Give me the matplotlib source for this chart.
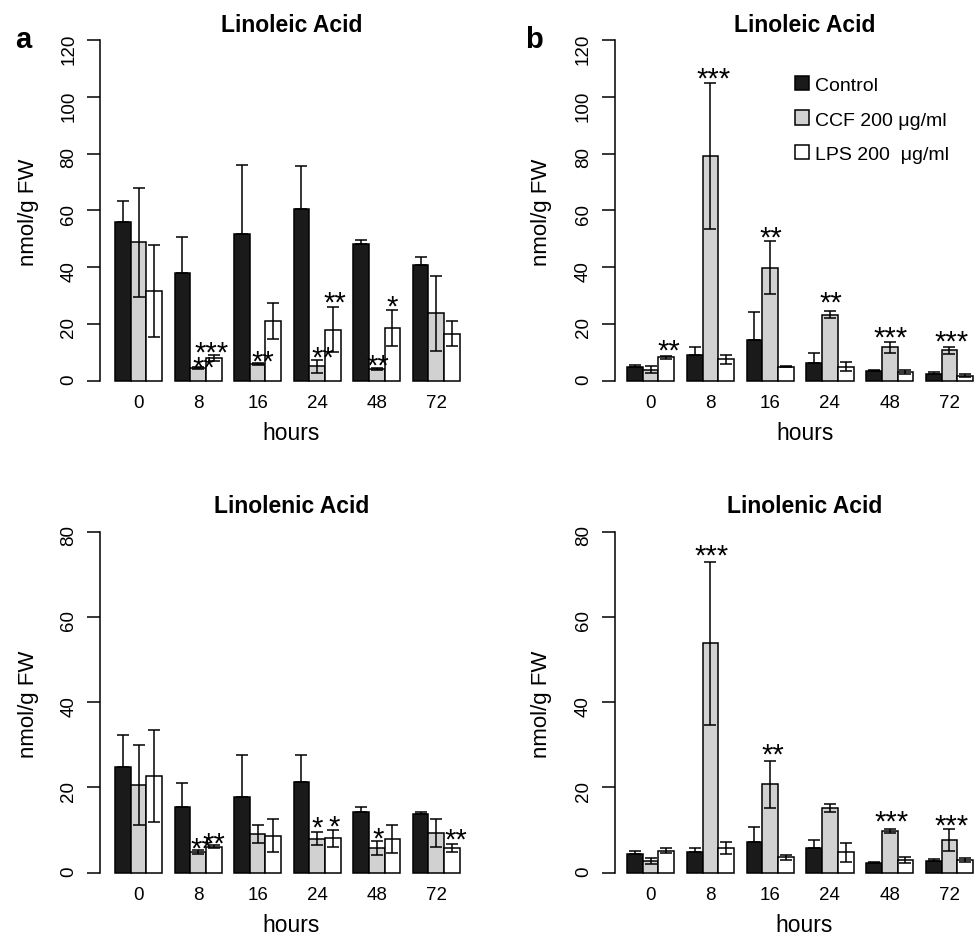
import matplotlib
matplotlib.use('Agg')
import matplotlib.pyplot as plt
from matplotlib.patches import Rectangle
import numpy as np

plt.rcParams['font.family'] = ['Liberation Sans', 'DejaVu Sans']

# ---------------- data ----------------
hours = ['0', '8', '16', '24', '48', '72']
series_names = ['Control', 'CCF 200 \u03bcg/ml', 'LPS 200  \u03bcg/ml']
series_colors = ['#1a1a1a', '#d0d1d0', '#ffffff']

# (a) Linoleic acid
a_lin_control = [55.9, 37.8, 51.5, 60.3, 48.3, 40.7]
a_lin_control_sd = [7.3, 12.7, 24.6, 15.2, 1.4, 2.9]
a_lin_ccf = [48.7, 4.4, 5.8, 5.1, 4.0, 23.7]
a_lin_ccf_sd = [19.2, 0.4, 0.4, 2.3, 0.4, 13.2]
a_lin_lps = [31.5, 8.1, 21.0, 18.0, 18.6, 16.6]
a_lin_lps_sd = [16.2, 1.1, 6.4, 7.9, 6.4, 4.5]

# (b) Linoleic acid
b_lin_control = [4.9, 9.0, 14.3, 6.3, 3.5, 2.4]
b_lin_control_sd = [0.5, 3.0, 9.8, 3.6, 0.3, 0.8]
b_lin_ccf = [3.9, 79.2, 39.8, 23.3, 11.8, 10.7]
b_lin_ccf_sd = [1.3, 25.7, 9.4, 1.2, 1.9, 1.2]
b_lin_lps = [8.2, 7.5, 5.0, 5.0, 3.0, 1.7]
b_lin_lps_sd = [0.6, 1.5, 0.3, 1.7, 0.6, 0.5]

# (a) Linolenic acid
a_len_control = [24.7, 15.3, 17.7, 21.2, 14.3, 13.8]
a_len_control_sd = [7.6, 5.8, 9.9, 6.4, 1.0, 0.4]
a_len_ccf = [20.6, 4.9, 9.1, 8.0, 5.8, 9.3]
a_len_ccf_sd = [9.3, 0.4, 2.2, 1.5, 1.7, 3.3]
a_len_lps = [22.6, 6.1, 8.7, 8.1, 7.9, 5.8]
a_len_lps_sd = [10.8, 0.3, 3.9, 2.0, 3.3, 0.9]

# (b) Linolenic acid
b_len_control = [4.3, 4.8, 7.3, 5.7, 2.2, 2.75]
b_len_control_sd = [0.9, 0.9, 3.5, 2.0, 0.3, 0.4]
b_len_ccf = [2.8, 53.8, 20.7, 15.2, 9.7, 7.7]
b_len_ccf_sd = [0.7, 19.2, 5.5, 0.9, 0.5, 2.5]
b_len_lps = [5.2, 5.9, 3.6, 4.8, 3.0, 3.05]
b_len_lps_sd = [0.5, 1.4, 0.6, 2.2, 0.65, 0.45]

# significance marks: group index, offset within group (bar units), y value, label
a_lin_stars_group = [1, 1, 2, 3, 3, 4, 4]
a_lin_stars_off = [1.89, 2.37, 1.84, 1.84, 2.6, 1.6, 2.5]
a_lin_stars_y = [6.3, 11.5, 8.4, 9.6, 29.0, 6.9, 27.8]
a_lin_stars_txt = ['**', '***', '**', '**', '**', '**', '*']

b_lin_stars_group = [0, 1, 2, 3, 4, 5]
b_lin_stars_off = [2.66, 1.67, 1.54, 1.56, 1.57, 1.6]
b_lin_stars_y = [12.2, 107.9, 51.9, 29.0, 16.7, 15.3]
b_lin_stars_txt = ['**', '***', '**', '**', '***', '***']

a_len_stars_group = [1, 1, 3, 3, 4, 5]
a_len_stars_off = [1.72, 2.48, 1.47, 2.58, 1.58, 2.73]
a_len_stars_y = [6.7, 7.9, 11.6, 12.0, 9.2, 8.8]
a_len_stars_txt = ['**', '**', '*', '*', '*', '**']

b_len_stars_group = [1, 2, 4, 5]
b_len_stars_off = [1.59, 1.68, 1.6, 1.65]
b_len_stars_y = [75.5, 28.9, 13.0, 12.1]
b_len_stars_txt = ['***', '**', '***', '***']

# ---------------- layout ----------------
W, H = 976, 935
fig = plt.figure(figsize=(W / 100, H / 100), dpi=100)

def fx(px):
    return px / W

def fy(py):
    return 1 - py / H

GROUP_PERIOD = 3.8   # 3 bars + gap
LW = 1.1

panels = [
    dict(title='Linoleic Acid', ymax=120,
         spine=100.0, first=115.0, unit=15.67, xmax=23.0, y0=380.7, ytop=40.0,
         means=[a_lin_control, a_lin_ccf, a_lin_lps],
         sds=[a_lin_control_sd, a_lin_ccf_sd, a_lin_lps_sd],
         stars=(a_lin_stars_group, a_lin_stars_off, a_lin_stars_y, a_lin_stars_txt),
         title_x=291.5, title_y=31.7, ylab_x=28.5, ylab_y=212.5, hours_y=439.6),
    dict(title='Linoleic Acid', ymax=120,
         spine=614.7, first=627.0, unit=15.73, xmax=22.1, y0=380.7, ytop=40.0,
         means=[b_lin_control, b_lin_ccf, b_lin_lps],
         sds=[b_lin_control_sd, b_lin_ccf_sd, b_lin_lps_sd],
         stars=(b_lin_stars_group, b_lin_stars_off, b_lin_stars_y, b_lin_stars_txt),
         title_x=804.7, title_y=31.7, ylab_x=542.0, ylab_y=212.5, hours_y=439.6),
    dict(title='Linolenic Acid', ymax=80,
         spine=100.0, first=115.0, unit=15.67, xmax=23.0, y0=872.7, ytop=531.7,
         means=[a_len_control, a_len_ccf, a_len_lps],
         sds=[a_len_control_sd, a_len_ccf_sd, a_len_lps_sd],
         stars=(a_len_stars_group, a_len_stars_off, a_len_stars_y, a_len_stars_txt),
         title_x=291.3, title_y=513.3, ylab_x=28.5, ylab_y=704.2, hours_y=931.5),
    dict(title='Linolenic Acid', ymax=80,
         spine=614.7, first=627.0, unit=15.73, xmax=22.1, y0=872.7, ytop=531.7,
         means=[b_len_control, b_len_ccf, b_len_lps],
         sds=[b_len_control_sd, b_len_ccf_sd, b_len_lps_sd],
         stars=(b_len_stars_group, b_len_stars_off, b_len_stars_y, b_len_stars_txt),
         title_x=804.4, title_y=513.3, ylab_x=542.0, ylab_y=704.2, hours_y=931.5),
]

group_idx = np.arange(len(hours))

for p in panels:
    xmin = -(p['first'] - p['spine']) / p['unit']
    width_px = (p['xmax'] - xmin) * p['unit']
    height_px = p['y0'] - p['ytop']
    ax = fig.add_axes([fx(p['spine']), fy(p['y0']), width_px / W, height_px / H])
    ax.set_facecolor('none')
    ax.set_xlim(xmin, p['xmax'])
    ax.set_ylim(0, p['ymax'])

    for j in range(3):
        xs = group_idx * GROUP_PERIOD + j + 0.5
        means = np.asarray(p['means'][j], dtype=float)
        sds = np.asarray(p['sds'][j], dtype=float)
        ax.bar(xs, means, width=1.0, color=series_colors[j],
               edgecolor='black', linewidth=LW, clip_on=False, zorder=2)
        if j == 0:
            # lower half of the whisker is hidden inside the dark bar
            yerr = [np.zeros_like(sds), sds]
        else:
            yerr = sds
        ax.errorbar(xs, means, yerr=yerr, fmt='none',
                    ecolor='black', elinewidth=LW, capsize=4.2, capthick=LW,
                    clip_on=False, zorder=3)

    g, off, yv, txt = p['stars']
    for gi, o, y, t in zip(g, off, yv, txt):
        ax.annotate(t, (gi * GROUP_PERIOD + o, y), xytext=(0, -9.8),
                    textcoords='offset points', ha='center', va='baseline',
                    fontsize=21, annotation_clip=False, zorder=4)

    for s in ['top', 'right', 'bottom']:
        ax.spines[s].set_visible(False)
    ax.spines['left'].set_linewidth(LW)
    ax.spines['left'].set_bounds(0, p['ymax'])
    ax.set_yticks(np.arange(0, p['ymax'] + 1, 20))
    ax.tick_params(axis='y', length=9.4, width=LW, pad=7, labelsize=13.5,
                   labelrotation=90)
    ax.set_xticks(group_idx * GROUP_PERIOD + 1.5)
    ax.set_xticklabels(hours)
    ax.tick_params(axis='x', length=0, pad=10.5, labelsize=13.5)

    fig.text(fx(p['title_x']), fy(p['title_y']), p['title'], ha='center',
             va='baseline', fontsize=16.5, fontweight='bold')
    fig.text(fx(p['ylab_x']), fy(p['ylab_y']), 'nmol/g FW', rotation=90,
             ha='center', va='center', fontsize=16)
    fig.text(fx(p['title_x']), fy(p['hours_y']), 'hours', ha='center',
             va='baseline', fontsize=16.5)

# panel letters
fig.text(fx(23.5), fy(48.0), 'a', ha='center', va='baseline', fontsize=21,
         fontweight='bold')
fig.text(fx(534.3), fy(48.0), 'b', ha='center', va='baseline', fontsize=21,
         fontweight='bold')

# legend (panel b, top)
leg_x = 794.7
leg_size = 14.0
leg_centers = [82.7, 117.5, 151.9]
for name, col, cy in zip(series_names, series_colors, leg_centers):
    rect = Rectangle((fx(leg_x), fy(cy + leg_size / 2)), leg_size / W,
                     leg_size / H, transform=fig.transFigure,
                     facecolor=col, edgecolor='black', linewidth=LW)
    fig.add_artist(rect)
    fig.text(fx(814.7), fy(cy + 8.0), name, ha='left', va='baseline',
             fontsize=14)

fig.savefig('out.png', dpi=100)
